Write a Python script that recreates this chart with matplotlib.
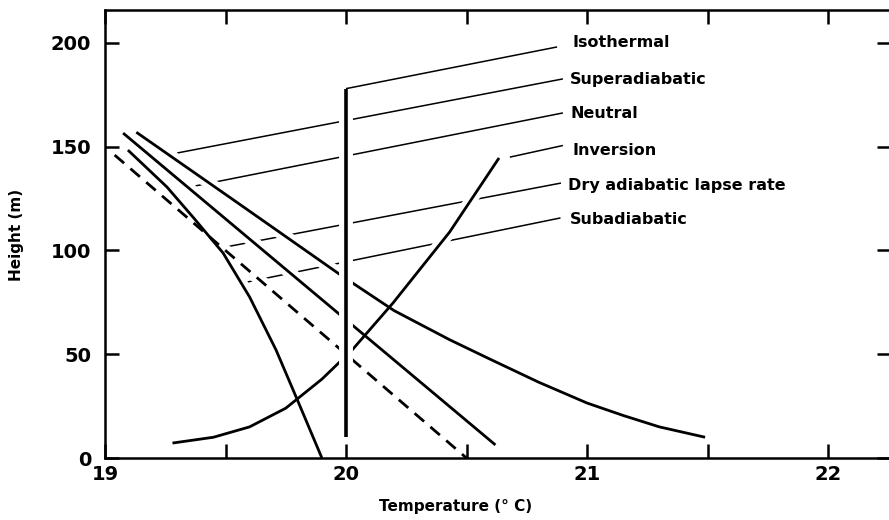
"""
Temperature profiles in the lower atmosphere (height vs temperature)
"""

import matplotlib
matplotlib.use('Agg')
import matplotlib.pyplot as plt
from matplotlib.ticker import FixedLocator

plt.rcParams['font.family'] = 'DejaVu Sans'

# Curves (temperature in deg C, height in m)
iso_T = [20.0, 20.0]
iso_H = [10, 178]

super_T = [19.13, 19.55, 19.98, 20.2, 20.43, 20.6, 20.8, 21.0, 21.15, 21.3, 21.49]
super_H = [157, 123, 88, 71, 57, 47.5, 36.5, 26.5, 20.5, 15, 10]

neutral_T = [19.075, 20.62]
neutral_H = [156.6, 6.3]

inv_T = [19.28, 19.45, 19.6, 19.75, 19.9, 20.025, 20.195, 20.43, 20.635]
inv_H = [7.2, 10, 15, 24, 38, 52, 74.7, 108.9, 144.6]

dry_T = [19.04, 20.5]
dry_H = [146, 0]

sub_T = [19.095, 19.257, 19.365, 19.49, 19.6, 19.71, 19.8, 19.9]
sub_H = [148.4, 130.6, 116.1, 98.8, 77.6, 52.0, 27.5, 0]

# Labels and their leader lines
labels = ['Isothermal', 'Superadiabatic', 'Neutral', 'Inversion',
          'Dry adiabatic lapse rate', 'Subadiabatic']
label_T = [20.94, 20.93, 20.93, 20.94, 20.92, 20.93]
label_H = [200.1, 182.2, 165.8, 148.4, 131.1, 114.7]
leader_start_T = [20.0, 19.30, 19.37, 20.68, 19.456, 19.59]
leader_start_H = [178, 147, 131, 145, 100.7, 84.8]
leader_end_T = [20.876, 20.90, 20.90, 20.90, 20.892, 20.89]
leader_end_H = [198.1, 182.7, 166.3, 150.6, 132.5, 115.7]

x_major = [19, 20, 21, 22]
x_ticks = [19, 19.5, 20, 20.5, 21, 21.5, 22]
y_ticks = [0, 50, 100, 150, 200]

fig = plt.figure(figsize=(8.89, 5.20), dpi=100)
ax = fig.add_axes([105 / 889, 62 / 520, 786 / 889, 448 / 520])
ax.set_xlim(19, 19 + 786 / 241)
ax.set_ylim(0, 448 / 2.075)

# leader lines (underneath everything)
for i in range(len(labels)):
    ax.plot([leader_start_T[i], leader_end_T[i]], [leader_start_H[i], leader_end_H[i]],
            color='black', lw=1.1, zorder=1, solid_capstyle='butt')
    ax.text(label_T[i], label_H[i], labels[i], ha='left', va='center',
            fontsize=11.5, fontweight='bold', zorder=5)

curves = [(super_T, super_H, '-'), (neutral_T, neutral_H, '-'), (inv_T, inv_H, '-'),
          (dry_T, dry_H, '--'), (sub_T, sub_H, '-')]

# white under-layer to break the leaders where the curves pass
for T, H, ls in curves:
    ax.plot(T, H, color='white', lw=9, zorder=1.5, solid_capstyle='butt')

for T, H, ls in curves:
    ax.plot(T, H, color='black', lw=2.0, ls=ls, zorder=2,
            dashes=(4.5, 3) if ls == '--' else (None, None), solid_capstyle='butt')

# isothermal line sits on top and breaks the others
ax.plot(iso_T, iso_H, color='white', lw=10, zorder=2.5, solid_capstyle='butt')
ax.plot(iso_T, iso_H, color='black', lw=2.6, zorder=3, solid_capstyle='butt')

ax.xaxis.set_major_locator(FixedLocator(x_ticks))
ax.set_xticklabels([str(int(t)) if t in x_major else '' for t in x_ticks])
ax.yaxis.set_major_locator(FixedLocator(y_ticks))
ax.tick_params(direction='in', length=10, width=1.8, top=True, right=True,
               labelsize=14, pad=10)
ax.tick_params(axis='x', pad=5)
for lab in ax.get_xticklabels() + ax.get_yticklabels():
    lab.set_fontweight('bold')

for s in ax.spines.values():
    s.set_linewidth(1.8)

fig.text(17 / 889, 1 - 235 / 520, 'Height (m)', rotation=90, ha='center', va='center',
         fontsize=11, fontweight='bold')
fig.text(456 / 889, 1 - 507 / 520, 'Temperature (° C)', ha='center', va='center',
         fontsize=11, fontweight='bold')

fig.savefig('out.png', dpi=100)
